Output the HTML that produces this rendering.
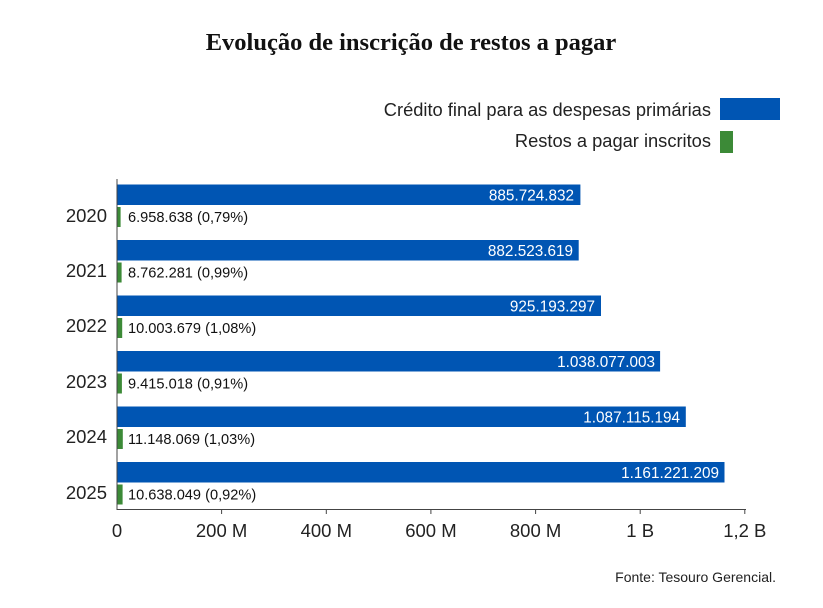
<!DOCTYPE html>
<html><head><meta charset="utf-8"><style>
body{margin:0;background:#fff}
svg{display:block;font-family:"Liberation Sans",sans-serif}
</style></head><body>
<svg width="823" height="608" viewBox="0 0 823 608" xmlns="http://www.w3.org/2000/svg">
<rect width="823" height="608" fill="#fff"/>
<text x="411" y="50" text-anchor="middle" font-family="Liberation Serif" font-weight="bold" font-size="24.5" fill="#111">Evolução de inscrição de restos a pagar</text>
<text x="711" y="116" text-anchor="end" font-size="18.3" fill="#222">Crédito final para as despesas primárias</text>
<rect x="720" y="98" width="60" height="22" fill="#0055b3"/>
<text x="711" y="147" text-anchor="end" font-size="18.3" fill="#222">Restos a pagar inscritos</text>
<rect x="720" y="131" width="13" height="22" fill="#3c8a37"/>
<g font-size="18.5" fill="#222" text-anchor="end">
<text x="107" y="222">2020</text><text x="107" y="277">2021</text><text x="107" y="332">2022</text>
<text x="107" y="388">2023</text><text x="107" y="443">2024</text><text x="107" y="499">2025</text>
</g>
<g fill="#0055b3">
<rect x="117" y="184.5" width="463.4" height="20.5"/>
<rect x="117" y="240" width="461.7" height="20.5"/>
<rect x="117" y="295.5" width="484" height="20.5"/>
<rect x="117" y="351" width="543.1" height="20.5"/>
<rect x="117" y="406.5" width="568.8" height="20.5"/>
<rect x="117" y="462" width="607.5" height="20.5"/>
</g>
<g fill="#fff" font-size="15.3" text-anchor="end">
<text x="574" y="200.5">885.724.832</text>
<text x="573" y="256">882.523.619</text>
<text x="595" y="311.5">925.193.297</text>
<text x="655" y="367">1.038.077.003</text>
<text x="680" y="422.5">1.087.115.194</text>
<text x="719" y="478">1.161.221.209</text>
</g>
<g fill="#3c8a37">
<rect x="117" y="207" width="3.6" height="20"/>
<rect x="117" y="262.5" width="4.6" height="20"/>
<rect x="117" y="318" width="5.2" height="20"/>
<rect x="117" y="373.5" width="4.9" height="20"/>
<rect x="117" y="429" width="5.8" height="20"/>
<rect x="117" y="484.5" width="5.6" height="20"/>
</g>
<g fill="#111" font-size="14.6">
<text x="128" y="222">6.958.638 (0,79%)</text>
<text x="128" y="277.5">8.762.281 (0,99%)</text>
<text x="128" y="333">10.003.679 (1,08%)</text>
<text x="128" y="388.5">9.415.018 (0,91%)</text>
<text x="128" y="444">11.148.069 (1,03%)</text>
<text x="128" y="499.5">10.638.049 (0,92%)</text>
</g>
<line x1="117" y1="179" x2="117" y2="510" stroke="#444" stroke-width="1"/>
<line x1="117" y1="509.5" x2="746" y2="509.5" stroke="#444" stroke-width="1"/>
<g stroke="#444">
<line x1="221.6" y1="509" x2="221.6" y2="514"/><line x1="326.3" y1="509" x2="326.3" y2="514"/>
<line x1="430.9" y1="509" x2="430.9" y2="514"/><line x1="535.6" y1="509" x2="535.6" y2="514"/>
<line x1="640.2" y1="509" x2="640.2" y2="514"/><line x1="744.8" y1="509" x2="744.8" y2="514"/>
</g>
<g font-size="18.5" fill="#222" text-anchor="middle">
<text x="117" y="537">0</text><text x="221.6" y="537">200 M</text><text x="326.3" y="537">400 M</text>
<text x="430.9" y="537">600 M</text><text x="535.6" y="537">800 M</text><text x="640.2" y="537">1 B</text>
<text x="744.8" y="537">1,2 B</text>
</g>
<text x="776" y="582" text-anchor="end" font-size="14" fill="#222">Fonte: Tesouro Gerencial.</text>
</svg>
</body></html>
